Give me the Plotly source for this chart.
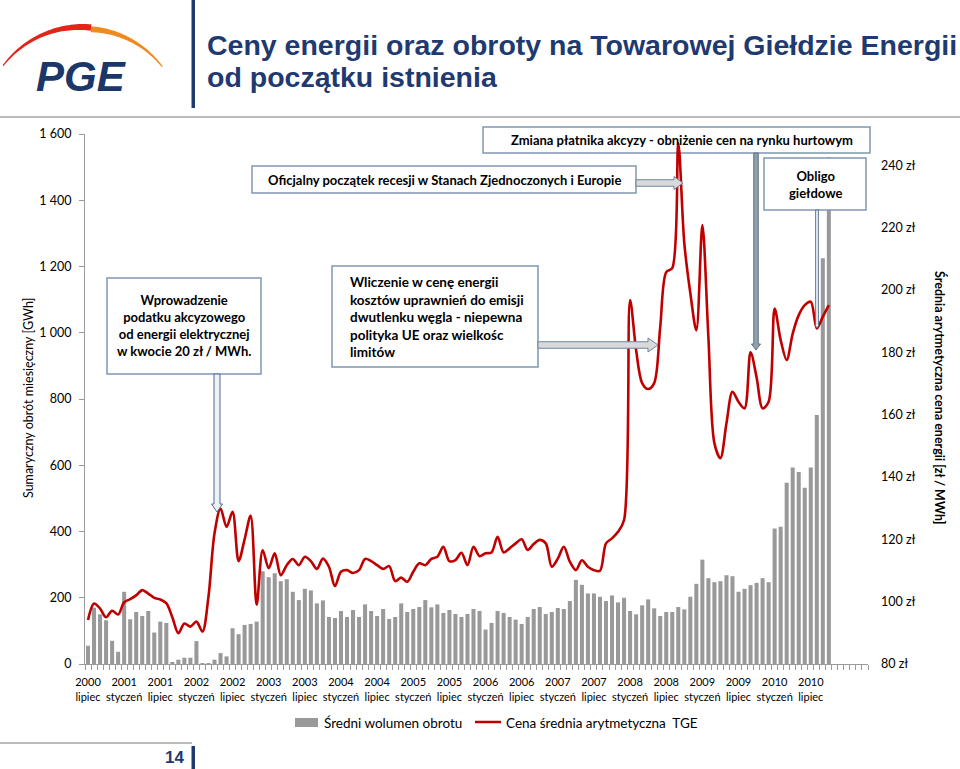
import math
import plotly.graph_objects as go

# ---------------- data ----------------
MONTH_NAMES = ["styczeń", "luty", "marzec", "kwiecień", "maj", "czerwiec",
               "lipiec", "sierpień", "wrzesień", "październik", "listopad", "grudzień"]
START_YEAR, START_MONTH, N_CATEGORIES = 2000, 7, 130

months = []
for k in range(N_CATEGORIES):
    m = START_MONTH - 1 + k
    months.append(f"{START_YEAR + m // 12} {MONTH_NAMES[m % 12]}")

# Sumaryczny obrót miesięczny [GWh] (July 2000 - October 2010)
volume = [55, 170, 150, 132, 70, 37, 218, 135, 157, 145, 160, 95, 128, 124,
          4, 13, 19, 19, 69, 1, 3, 13, 33, 23, 108, 90, 118, 121, 128,
          280, 262, 274, 250, 256, 218, 193, 227, 222, 183, 192, 142, 139,
          160, 142, 163, 142, 180, 160, 145, 166, 136, 142, 183, 157, 166,
          172, 193, 171, 180, 154, 163, 151, 142, 151, 166, 160, 104, 124,
          160, 154, 142, 134, 121, 142, 166, 172, 151, 157, 169, 166, 190,
          254, 239, 213, 213, 203, 190, 207, 186, 200, 160, 150, 177, 195,
          168, 145, 157, 157, 172, 165, 203, 242, 315, 259, 247, 250, 268,
          265, 218, 227, 238, 245, 259, 247, 409, 414, 547, 593, 580, 532,
          593, 752, 1225, 1530]

# Średnia arytmetyczna cena energii [zł / MWh]
price = [94.1, 99.4, 97.8, 95.0, 97.1, 95.9, 99.8, 100.8, 102.0, 103.7, 102.6,
         101.2, 100.7, 99.5, 95.0, 89.9, 93.0, 92.0, 93.6, 90.4, 101.6, 121.9,
         129.9, 124.0, 128.8, 113.0, 120.0, 127.5, 99.0, 116.5, 110.7, 115.5,
         108.5, 111.7, 113.7, 111.7, 114.4, 113.0, 110.5, 113.8, 111.2, 105.0,
         109.6, 110.1, 109.2, 110.1, 113.7, 113.0, 111.7, 110.5, 111.4, 106.6,
         107.7, 106.4, 109.6, 112.3, 111.7, 113.7, 114.4, 117.6, 113.0, 113.3,
         115.7, 111.7, 117.6, 114.6, 115.5, 115.8, 120.8, 115.8, 117.1, 118.7,
         120.0, 116.6, 118.5, 119.8, 118.7, 111.2, 113.8, 117.6, 112.8, 110.1,
         113.3, 111.2, 110.1, 109.9, 118.7, 120.3, 122.4, 126.2, 196.7, 180.7,
         170.1, 168.2, 170.1, 188.0, 205.7, 207.0, 247.0, 215.0, 199.0, 187.1,
         220.8, 184.8, 150.8, 146.0, 157.2, 167.3, 164.1, 162.0, 180.0, 172.0,
         162.0, 164.1, 194.0, 183.9, 177.5, 186.0, 191.9, 195.1, 196.2, 187.6,
         191.4, 195.1]

left_ticks = [0, 200, 400, 600, 800, 1000, 1200, 1400, 1600]
left_ticktext = ["0", "200", "400", "600", "800", "1 000", "1 200", "1 400", "1 600"]
right_ticks = [80, 100, 120, 140, 160, 180, 200, 220, 240]
right_ticktext = [f"{v} zł" for v in right_ticks]

x_ticktext = [m.replace(" ", "<br>") if k % 6 == 0 and k < 124 else "" for k, m in enumerate(months)]

# ---------------- geometry helpers (pixel -> paper) ----------------
W, H = 960, 769
L, R, T, B = 85, 868, 134, 664


def px(x):
    return (x - L) / (R - L)


def py(y):
    return (B - y) / (B - T)


def path_from(points):
    s = "M " + " L ".join(f"{px(x):.5f},{py(y):.5f}" for x, y in points) + " Z"
    return s


def arrow(x0, y0, x1, y1, w, hw, hl):
    dx, dy = x1 - x0, y1 - y0
    d = math.hypot(dx, dy)
    ux, uy = dx / d, dy / d
    nx, ny = -uy, ux
    bx, by = x1 - ux * hl, y1 - uy * hl
    pts = [(x0 + nx * w / 2, y0 + ny * w / 2), (bx + nx * w / 2, by + ny * w / 2),
           (bx + nx * hw / 2, by + ny * hw / 2), (x1, y1),
           (bx - nx * hw / 2, by - ny * hw / 2), (bx - nx * w / 2, by - ny * w / 2),
           (x0 - nx * w / 2, y0 - ny * w / 2)]
    return path_from(pts)


shapes = []
annotations = []
FONT = "Lato"
BOX_LINE = "#7F96B2"


def box(x0, y0, x1, y1, layer="above"):
    shapes.append(dict(type="rect", xref="paper", yref="paper", x0=px(x0), x1=px(x1),
                       y0=py(y1), y1=py(y0), fillcolor="white",
                       line=dict(color=BOX_LINE, width=1.5), layer=layer))


def text(x, y, s, size=13, bold=False, color="black", xa="center", ya="middle",
         family=FONT, align="center", angle=0):
    annotations.append(dict(xref="paper", yref="paper", x=px(x), y=py(y), text=s,
                            showarrow=False, xanchor=xa, yanchor=ya, align=align,
                            textangle=angle,
                            font=dict(family=family, size=size, color=color,
                                      weight="bold" if bold else "normal")))


# ---------------- figure ----------------
fig = go.Figure()
fig.add_trace(go.Bar(x=months[:len(volume)], y=volume, marker_color="#999999",
                     marker_line_width=0, name="Średni wolumen obrotu", yaxis="y"))
fig.add_trace(go.Scatter(x=months[:len(price)], y=price, mode="lines",
                         line=dict(color="#C00000", width=2.6, shape="spline", smoothing=0.9),
                         name="Cena średnia arytmetyczna TGE", yaxis="y2"))

# annotation boxes
box(107, 278, 261, 374)
text(184, 325, "Wprowadzenie<br>podatku akcyzowego<br>od energii elektrycznej<br>w kwocie 20 zł / MWh.",
     size=13, bold=True)
box(332, 266, 538, 367)
text(348, 317, "Wliczenie w cenę energii<br>kosztów uprawnień do emisji<br>dwutlenku węgla - niepewna"
     "<br>polityka UE oraz wielkośc<br>limitów", size=13.5, bold=True, xa="left", align="left")
box(252, 166, 636, 193)
text(444, 180, "Oficjalny początek recesji w Stanach Zjednoczonych i Europie", size=13, bold=True)
box(483, 127, 870, 153, layer="below")
text(682, 140, "Zmiana płatnika akcyzy - obniżenie cen na rynku hurtowym", size=13, bold=True)
box(764, 158, 866, 210)
text(815, 184, "Obligo<br>giełdowe", size=13, bold=True)

# arrows
shapes.append(dict(type="path", xref="paper", yref="paper", path=arrow(217, 374, 217, 512, 6, 11, 8),
                   fillcolor="#EEF2F6", line=dict(color="#4F6B8F", width=1)))
shapes.append(dict(type="path", xref="paper", yref="paper", path=arrow(538, 345, 658, 345, 6.5, 14, 10),
                   fillcolor="#D9D9D9", line=dict(color="#6D84A3", width=1)))
shapes.append(dict(type="path", xref="paper", yref="paper", path=arrow(636, 183, 683, 183, 6.5, 13, 9),
                   fillcolor="#D9D9D9", line=dict(color="#6D84A3", width=1)))
shapes.append(dict(type="path", xref="paper", yref="paper", path=arrow(756, 153, 756, 350, 4.5, 9, 6),
                   fillcolor="#8FA1AA", line=dict(color="#5E7380", width=1)))
shapes.append(dict(type="path", xref="paper", yref="paper", path=arrow(817, 210, 817, 328, 2.6, 4, 3),
                   fillcolor="#FFFFFF", line=dict(color="#4F6B8F", width=1)))

# header: logo, title, separators
cx, cy = 83.5, 124.0


def arc_poly(a0, a1, t0, t1, r=99.0, n=40):
    outer, inner = [], []
    for i in range(n + 1):
        f = i / n
        a = math.radians(a0 + (a1 - a0) * f)
        t = t0 + (t1 - t0) * f
        outer.append((cx + r * math.cos(a), cy - r * math.sin(a)))
        inner.append((cx + (r - t) * math.cos(a), cy - (r - t) * math.sin(a)))
    return path_from(outer + inner[::-1])


shapes.append(dict(type="path", xref="paper", yref="paper", path=arc_poly(144, 85.5, 1.2, 6.5, r=100),
                   fillcolor="#E0261B", line=dict(width=0)))
shapes.append(dict(type="path", xref="paper", yref="paper", path=arc_poly(85.5, 36, 6.0, 1.2, r=98),
                   fillcolor="#EF8A1F", line=dict(width=0)))
annotations.append(dict(xref="paper", yref="paper", x=px(81), y=py(76), showarrow=False,
                        text="<b><i>PGE</i></b>", xanchor="center", yanchor="middle",
                        font=dict(family="Liberation Sans", size=42, color="#1B3769")))
shapes.append(dict(type="rect", xref="paper", yref="paper", x0=px(191.5), x1=px(195), y0=py(108), y1=py(0),
                   fillcolor="#1F3A70", line=dict(width=0)))
shapes.append(dict(type="line", xref="paper", yref="paper", x0=px(0), x1=px(960), y0=py(117), y1=py(117),
                   line=dict(color="#A6A6A6", width=1.5)))
text(205, 45, "Ceny energii oraz obroty na Towarowej Giełdzie Energii", size=28.5, bold=True,
     color="#1F3A70", xa="left", family="Liberation Sans")
text(205, 77, "od początku istnienia", size=28.5, bold=True, color="#1F3A70", xa="left",
     family="Liberation Sans")

# footer
shapes.append(dict(type="line", xref="paper", yref="paper", x0=px(0), x1=px(192), y0=py(743), y1=py(743),
                   line=dict(color="#A6A6A6", width=1.5)))
shapes.append(dict(type="rect", xref="paper", yref="paper", x0=px(191.5), x1=px(195), y0=py(769), y1=py(746),
                   fillcolor="#1F3A70", line=dict(width=0)))
text(186, 757, "14", size=17, bold=True, color="#1F3A70", xa="right", family="Liberation Sans")

# axis titles
text(28, 398, "Sumaryczny obrót miesięczny [GWh]", size=12.5, angle=-90)
text(940, 398, "Średnia arytmetyczna cena energii [zł / MWh]", size=12.5, bold=True, angle=90)

# custom legend
shapes.append(dict(type="rect", xref="paper", yref="paper", x0=px(295), x1=px(318), y0=py(727), y1=py(718),
                   fillcolor="#999999", line=dict(width=0)))
text(322, 723, "Średni wolumen obrotu", size=13.5, xa="left")
shapes.append(dict(type="line", xref="paper", yref="paper", x0=px(475), x1=px(501), y0=py(722), y1=py(722),
                   line=dict(color="#C00000", width=2.5)))
text(504, 723, "Cena średnia arytmetyczna  TGE", size=13.5, xa="left")

fig.update_layout(
    width=W, height=H, autosize=False,
    margin=dict(l=L, r=W - R, t=T, b=H - B, pad=0),
    paper_bgcolor="white", plot_bgcolor="white",
    showlegend=False, bargap=0.33,
    font=dict(family=FONT, size=12, color="black"),
    xaxis=dict(type="category", categoryorder="array", categoryarray=months,
               range=[-0.5, N_CATEGORIES - 0.5], tickmode="array", tickvals=months,
               ticktext=x_ticktext, tickson="boundaries", ticks="outside", ticklen=5,
               tickcolor="#9A9A9A", showline=True, linecolor="#9A9A9A", linewidth=1,
               showgrid=False, tickangle=0, tickfont=dict(size=11), ticklabelstandoff=8),
    yaxis=dict(range=[0, 1600], tickvals=left_ticks, ticktext=left_ticktext, showgrid=False,
               zeroline=False, showline=True, linecolor="#9A9A9A", ticks="outside", ticklen=5,
               tickcolor="#9A9A9A", tickfont=dict(size=12.5), ticklabelstandoff=5),
    yaxis2=dict(range=[80, 250], overlaying="y", side="right", tickvals=right_ticks,
                ticktext=right_ticktext, showgrid=False, zeroline=False, showline=False,
                ticks="", tickfont=dict(size=12.5), ticklabelstandoff=12),
    shapes=shapes, annotations=annotations,
)

fig.write_html("out.html", config={"displayModeBar": False},
               post_script="document.body.style.margin='0';document.body.style.overflow='hidden';")
